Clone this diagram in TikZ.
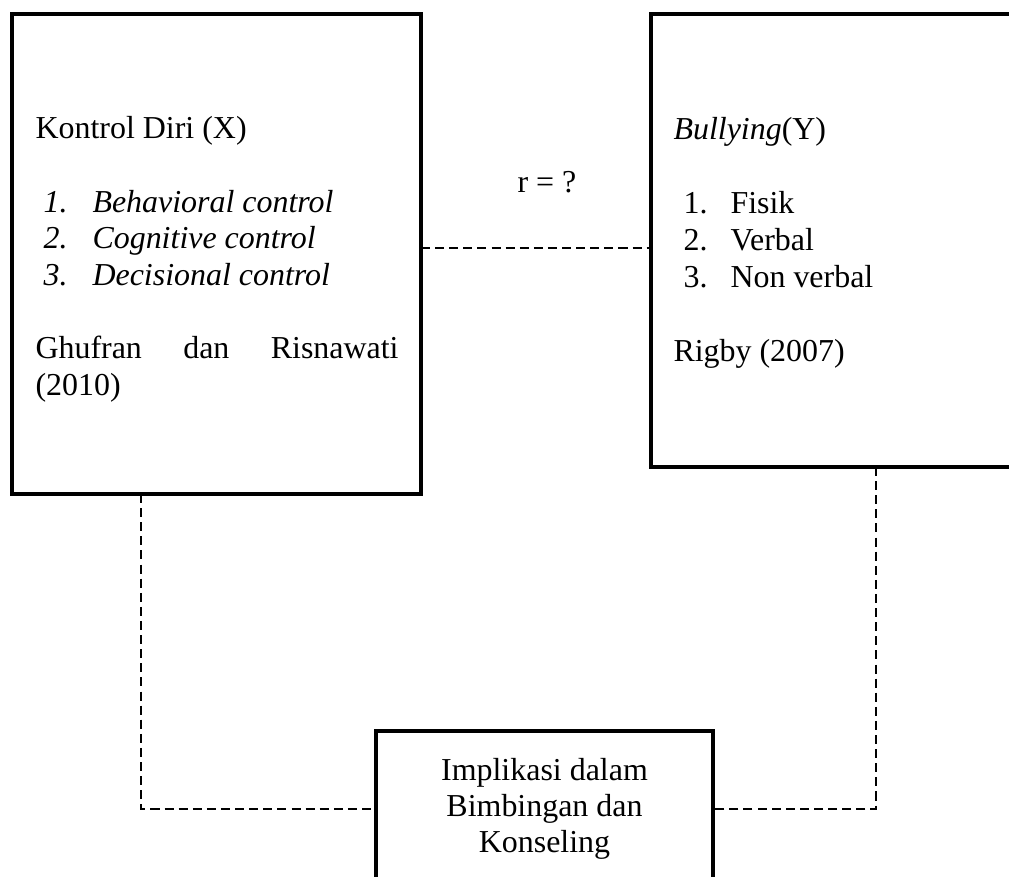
\documentclass[tikz,border=0pt]{standalone}
\usepackage{fontspec}
\setmainfont{Liberation Serif}
\begin{document}
\def\u{0.3757pt}
\begin{tikzpicture}[x=0.3757pt, y=-0.3757pt,
  box/.style={draw, line width=1.5pt, inner sep=0pt, outer sep=0pt},
  conn/.style={line width=0.6pt, dash pattern=on 3.4pt off 1.9pt},
  txt/.style={inner sep=0pt, anchor=base west, font=\fontsize{12}{13.8}\selectfont},
  ctxt/.style={inner sep=0pt, anchor=base, font=\fontsize{12}{13.8}\selectfont}]
\useasboundingbox (0,0) rectangle (1009,876);
% boxes
\node[box, minimum width=409*\u, minimum height=480*\u] (L) at (216.5,254) {};
\node[box, minimum width=409*\u, minimum height=453*\u] (R) at (855.5,240.5) {};
\node[box, minimum width=337*\u, minimum height=156*\u] (B) at (544.5,809) {};
% connectors
\coordinate (topy) at (0,248);
\draw[conn] (L.east |- topy) -- (R.west |- topy);
\draw[conn] ([xshift=129*\u]L.south west) |- (B.west);
\draw[conn] ([xshift=225*\u]R.south west) |- (B.east);
% left box text
\node[txt] (kx) at (35,138) {Kontrol Diri (X)};
\node[txt] (n1) at (43,212) {\itshape 1.};
\node[txt] (i1) at (92,212) {\itshape Behavioral control};
\node[txt] (n2) at (43,248.5) {\itshape 2.};
\node[txt] (i2) at (92,248.5) {\itshape Cognitive control};
\node[txt] (n3) at (43,285) {\itshape 3.};
\node[txt] (i3) at (92,285) {\itshape Decisional control};
\node[txt] (g1) at (35,358) {\hbox to 136.4pt{Ghufran\hfill dan\hfill Risnawati}};
\node[txt] (g2) at (35,395) {(2010)};
% right box text
\node[txt] (by) at (673,139) {\textit{Bullying}(Y)};
\node[txt] (m1) at (683,213) {1.};
\node[txt] (j1) at (730,213) {Fisik};
\node[txt] (m2) at (683,250) {2.};
\node[txt] (j2) at (730,250) {Verbal};
\node[txt] (m3) at (683,287) {3.};
\node[txt] (j3) at (730,287) {Non verbal};
\node[txt] (rg) at (673,361) {Rigby (2007)};
% correlation label
\node[txt] (r) at (517,192) {r = ?};
% bottom box text
\node[ctxt] (b1) at (544.5,780) {Implikasi dalam};
\node[ctxt] (b2) at (544.5,816) {Bimbingan dan};
\node[ctxt] (b3) at (544.5,852) {Konseling};
\end{tikzpicture}
\end{document}
